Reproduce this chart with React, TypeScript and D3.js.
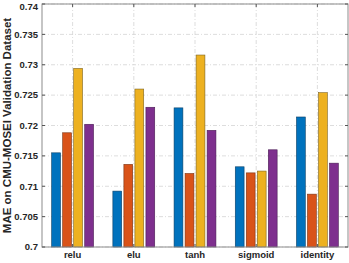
import React from 'react';
import * as d3 from 'd3';

const categories = ['relu', 'elu', 'tanh', 'sigmoid', 'identity'];
const series1 = [0.7155, 0.7092, 0.7229, 0.7132, 0.7214];
const series2 = [0.7188, 0.7136, 0.7121, 0.7122, 0.7087];
const series3 = [0.7294, 0.726, 0.7316, 0.7125, 0.7254];
const series4 = [0.7202, 0.723, 0.7192, 0.716, 0.7138];
const yTicks = [0.7, 0.705, 0.71, 0.715, 0.72, 0.725, 0.73, 0.735, 0.74];
const colors = ['#0072BD', '#D95319', '#EDB120', '#7E2F8E'];
const edges = ['#0a3f66', '#7a3312', '#7d6420', '#4a1d54'];

const width = 349,
  height = 263;
const margin = { top: 4, right: 1, bottom: 16, left: 42 };

export default function App() {
  const series = [series1, series2, series3, series4];
  const x = d3
    .scaleLinear()
    .domain([0.5, categories.length + 0.5])
    .range([margin.left, width - margin.right]);
  const y = d3
    .scaleLinear()
    .domain([0.7, 0.74])
    .range([height - margin.bottom, margin.top]);
  const slot = (x(1) - x(0)) * 0.18;
  const barW = slot * 0.8;
  const font = 'Liberation Sans, Arial, sans-serif';

  return (
    <svg
      width={width}
      height={height}
      style={{ position: 'absolute', left: 0, top: 0, background: '#fff' }}
    >
      {/* grid */}
      {yTicks.map((t) => (
        <line
          key={'gy' + t}
          x1={margin.left}
          x2={width - margin.right}
          y1={y(t)}
          y2={y(t)}
          stroke="#d4d4d4"
          strokeWidth={0.8}
          strokeDasharray="4,2,1,2"
        />
      ))}
      {categories.map((c, i) => (
        <line
          key={'gx' + c}
          x1={x(i + 1)}
          x2={x(i + 1)}
          y1={margin.top}
          y2={height - margin.bottom}
          stroke="#d4d4d4"
          strokeWidth={0.8}
          strokeDasharray="4,2,1,2"
        />
      ))}
      {/* bars */}
      {series.map((s, k) =>
        s.map((v, i) => {
          const cx = x(i + 1) + (k - 1.5) * slot;
          return (
            <rect
              key={k + '-' + i}
              x={cx - barW / 2}
              y={y(v)}
              width={barW}
              height={y(0.7) - y(v)}
              fill={colors[k]}
              stroke={edges[k]}
              strokeWidth={0.6}
            />
          );
        })
      )}
      {/* box */}
      <rect
        x={margin.left}
        y={margin.top}
        width={width - margin.left - margin.right}
        height={height - margin.top - margin.bottom}
        fill="none"
        stroke="#8c8c8c"
        strokeWidth={1}
      />
      {/* ticks */}
      {yTicks.map((t) => (
        <g key={'ty' + t}>
          <line x1={margin.left} x2={margin.left + 3} y1={y(t)} y2={y(t)} stroke="#555" />
          <line
            x1={width - margin.right - 3}
            x2={width - margin.right}
            y1={y(t)}
            y2={y(t)}
            stroke="#555"
          />
          <text
            x={margin.left - 4}
            y={Math.max(y(t), 7)}
            dy="0.35em"
            textAnchor="end"
            fontFamily={font}
            fontSize={9.5}
            fontWeight={600}
            fill="#262626"
          >
            {String(t)}
          </text>
        </g>
      ))}
      {categories.map((c, i) => (
        <g key={'tx' + c}>
          <line
            x1={x(i + 1)}
            x2={x(i + 1)}
            y1={height - margin.bottom}
            y2={height - margin.bottom - 3}
            stroke="#555"
          />
          <line x1={x(i + 1)} x2={x(i + 1)} y1={margin.top} y2={margin.top + 3} stroke="#555" />
          <text
            x={x(i + 1)}
            y={height - margin.bottom + 11}
            textAnchor="middle"
            fontFamily={font}
            fontSize={9.5}
            fontWeight={600}
            fill="#262626"
          >
            {c}
          </text>
        </g>
      ))}
      <text
        transform={`translate(7,${(margin.top + height - margin.bottom) / 2}) rotate(-90)`}
        textAnchor="middle"
        dy="0.35em"
        fontFamily={font}
        fontSize={11.5}
        fontWeight="bold"
        fill="#262626"
      >
        MAE on CMU-MOSEI Validation Dataset
      </text>
    </svg>
  );
}
